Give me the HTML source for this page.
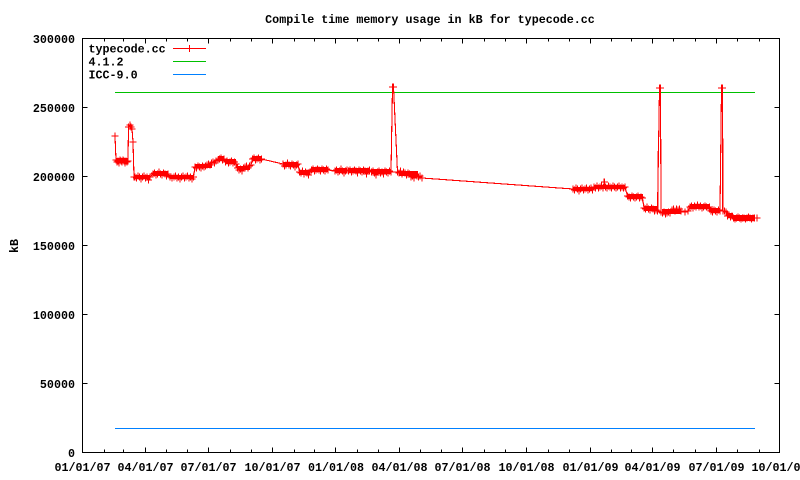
<!DOCTYPE html>
<html><head><meta charset="utf-8"><style>
html,body{margin:0;padding:0;background:#fff;}
svg{display:block;}
text{font-family:"Liberation Mono",monospace;font-weight:bold;font-size:11.7px;fill:#000;}
</style></head><body>
<svg width="800" height="480" viewBox="0 0 800 480" xmlns="http://www.w3.org/2000/svg">
<defs>
<marker id="p" markerWidth="10" markerHeight="10" refX="5" refY="5" markerUnits="userSpaceOnUse" overflow="visible"><path d="M1.5 5H8.5M5 1.5V8.5" stroke="#f00" stroke-width="1.2" fill="none" shape-rendering="crispEdges"/></marker>
</defs>
<rect width="800" height="480" fill="#fff"/>
<text x="430" y="23" text-anchor="middle">Compile time memory usage in kB for typecode.cc</text>
<text transform="translate(18,246) rotate(-90)" text-anchor="middle">kB</text>
<g text-anchor="end">
<text x="75" y="43">300000</text>
<text x="75" y="112">250000</text>
<text x="75" y="181">200000</text>
<text x="75" y="250">150000</text>
<text x="75" y="319">100000</text>
<text x="75" y="388">50000</text>
<text x="75" y="457">0</text>
</g>
<g text-anchor="middle">
<text x="82.5" y="471">01/01/07</text>
<text x="145.5" y="471">04/01/07</text>
<text x="208.5" y="471">07/01/07</text>
<text x="272.5" y="471">10/01/07</text>
<text x="336" y="471">01/01/08</text>
<text x="399.5" y="471">04/01/08</text>
<text x="462.5" y="471">07/01/08</text>
<text x="526.5" y="471">10/01/08</text>
<text x="590.5" y="471">01/01/09</text>
<text x="652.5" y="471">04/01/09</text>
<text x="716.5" y="471">07/01/09</text>
<text x="779.5" y="471">10/01/09</text>
</g>
<g stroke="#000" stroke-width="1" fill="none" shape-rendering="crispEdges">
<rect x="82.5" y="38.5" width="697" height="414"/>
<path d="M82.5 383.5h5M82.5 314.5h5M82.5 245.5h5M82.5 176.5h5M82.5 107.5h5
M779.5 383.5h-5M779.5 314.5h-5M779.5 245.5h-5M779.5 176.5h-5M779.5 107.5h-5"/>
<path d="M145.5 452.5v-5M208.5 452.5v-5M272.5 452.5v-5M335.5 452.5v-5M399.5 452.5v-5M462.5 452.5v-5M526.5 452.5v-5M590.5 452.5v-5M652.5 452.5v-5M716.5 452.5v-5
M145.5 38.5v5M208.5 38.5v5M272.5 38.5v5M335.5 38.5v5M399.5 38.5v5M462.5 38.5v5M526.5 38.5v5M590.5 38.5v5M652.5 38.5v5M716.5 38.5v5"/>
<path d="M104.5 452.5v-3M123.5 452.5v-3M166.5 452.5v-3M187.5 452.5v-3M230.5 452.5v-3M251.5 452.5v-3M294.5 452.5v-3M314.5 452.5v-3M357.5 452.5v-3M378.5 452.5v-3M420.5 452.5v-3M441.5 452.5v-3M484.5 452.5v-3M505.5 452.5v-3M548.5 452.5v-3M569.5 452.5v-3M611.5 452.5v-3M631.5 452.5v-3M673.5 452.5v-3M695.5 452.5v-3M737.5 452.5v-3M759.5 452.5v-3
M104.5 38.5v3M123.5 38.5v3M166.5 38.5v3M187.5 38.5v3M230.5 38.5v3M251.5 38.5v3M294.5 38.5v3M314.5 38.5v3M357.5 38.5v3M378.5 38.5v3M420.5 38.5v3M441.5 38.5v3M484.5 38.5v3M505.5 38.5v3M548.5 38.5v3M569.5 38.5v3M611.5 38.5v3M631.5 38.5v3M673.5 38.5v3M695.5 38.5v3M737.5 38.5v3M759.5 38.5v3"/>
</g>
<text x="88.5" y="52.5">typecode.cc</text>
<text x="88.5" y="65.5">4.1.2</text>
<text x="88.5" y="78.5">ICC-9.0</text>
<g shape-rendering="crispEdges">
<path d="M173 48.5H206" stroke="#f00" stroke-width="1"/>
<path d="M189.5 45V52" stroke="#f00" stroke-width="1"/>
<path d="M173 61.5H206" stroke="#00c000" stroke-width="1"/>
<path d="M173 74.5H206" stroke="#0080ff" stroke-width="1"/>
<path d="M115 92.5H755" stroke="#00c000" stroke-width="1"/>
<path d="M115 428.5H755" stroke="#0080ff" stroke-width="1"/>
</g>
<!-- solid cores of dense point clusters -->
<g fill="#f00" shape-rendering="crispEdges">
<rect x="116" y="158" width="12" height="5"/>
<rect x="135" y="175" width="15" height="4"/>
<rect x="153" y="171" width="15" height="5"/>
<rect x="170" y="175" width="24" height="4"/>
<rect x="195" y="164" width="17" height="4"/>
<rect x="218" y="156" width="6" height="5"/>
<rect x="225" y="159" width="11" height="5"/>
<rect x="238" y="166" width="12" height="4"/>
<rect x="252" y="156" width="10" height="5"/>
<rect x="283" y="162" width="15" height="5"/>
<rect x="300" y="170" width="10" height="5"/>
<rect x="311" y="167" width="17" height="5"/>
<rect x="335" y="168" width="12" height="5"/>
<rect x="348" y="168" width="22" height="5"/>
<rect x="371" y="169" width="20" height="5"/>
<rect x="399" y="171" width="19" height="5"/>
<rect x="573" y="187" width="20" height="4"/>
<rect x="594" y="185" width="31" height="4"/>
<rect x="628" y="194" width="15" height="5"/>
<rect x="644" y="206" width="13" height="5"/>
<rect x="662" y="209" width="19" height="5"/>
<rect x="690" y="204" width="20" height="5"/>
<rect x="711" y="208" width="9" height="5"/>
<rect x="727" y="213" width="6" height="5"/>
<rect x="733" y="215" width="22" height="6"/>
</g>
<path d="M658 211V151M722.5 211V151" stroke="#f00" stroke-width="1" fill="none" shape-rendering="crispEdges"/>
<polyline fill="none" stroke="#f00" stroke-width="1.1" shape-rendering="crispEdges" marker-start="url(#p)" marker-mid="url(#p)" marker-end="url(#p)" points="
115,136 116,160 117,162 118,161 119,163 120,160 121,161 122,162 123,160 124,161 125,163 126,161 127,162 128,161
128.5,127 130,125 131,127 132,129 133,142 134,177
135,177 136.5,178 138,176 139.5,177 141,179 142.5,177 144,176 145.5,178 147,177 148.5,180 150,177
153,174 154.5,173 156,175 157.5,174 159,172 160.5,174 162,175 163.5,173 165,174 166.5,176 168,174
170,177 172,178 174,177 175.5,176 177,178 178.5,177 180,179 181.5,177 183,176 184.5,178 186,177 187.5,176 189,178 190.5,177 192,179 193.5,177
195,167 196.5,168 198,166 199.5,167 201,168 202.5,166 204,167 205.5,166 207,165 208.5,164 210,165 211.5,163 213,162 214.5,163 216,161 218,160 219.5,159 221,158 222.5,160 224,159 225.5,162 227,161 228.5,163 230,162 231.5,161 233,163 234.5,162 236,164 237.5,168 239,170 240.5,169 242,171 243.5,168 245,167 246.5,166 248,168 249.5,166 251,165 252.5,159 254,158 255.5,160 257,159 258.5,158 260,160 261.5,159
283,164 284.5,166 286,165 287.5,163 289,165 290.5,166 292,164 293.5,165 295,167 296.5,165 298,164
299.5,172 301,173 302.5,171 304,174 305.5,172 307,173 308.5,175 310,172
311.5,170 313,169 314.5,171 316,170 317.5,169 319,170 320.5,171 322,169 323.5,170 325,171 326.5,169 328,170
335,171 336.5,170 338,172 339.5,171 341,169 342.5,171 344,173 345.5,171 347,170
348.5,171 350,170 351.5,172 353,171 354.5,170 356,171 357.5,173 359,170 360.5,171 362,172 363.5,170 365,171 366.5,174 368,171 369.5,170
371.5,172 373,171 374.5,173 376,175 377.5,172 379,171 380.5,173 382,172 383.5,174 385,171 386.5,172 388,173 389.5,171 391,172
392.5,87 393.5,87 397.5,172
399,173 400.5,171 402,174 403.5,172 405,173 406.5,175 408,173 409.5,174 411,177 412.5,176 414,178 415.5,175 417,176 418.5,177 420,176 422,178
573,189 574.5,190 576,188 577.5,189 579,191 580.5,189 582,188 583.5,190 585,189 586.5,188 588,190 589.5,189 591,188 592.5,190
594,187 595.5,188 597,186 598.5,188 600,187 601.5,186 603,188 604.3,182 605.5,187 607,188 608.5,186 610,187 611.5,188 613,186 614.5,187 616,188 617.5,187 619,186 620.5,188 622,187 623.5,188 625,187
627.5,196 629,197 630.5,198 632,196 633.5,197 635,198 636.5,197 638,196 639.5,198 641,197 642.5,198
644,208 645.5,209 647,207 648.5,209 650,210 651.5,208 653,209 654.5,211 656,210 657.5,211
659.5,88 660.5,88 661,212
662.5,213 664,212 665.5,214 667,213 668.5,212 670,213 672,210 673.5,209 675,211 676.5,209 678,210 679.5,209 681,211
685,212 688,211
690,207 691.5,206 693,208 694.5,206 696,207 697.5,205 699,207 700.5,206 702,208 703.5,207 705,206 706.5,207 708,208 709.5,207
711,211 712.5,212 714,210 715.5,211 717,212 718.5,210 720,211
721.5,88 722.5,88 723,211
724.5,211 726,212 727.5,216 729,215 730.5,217 732,216
733.5,218 735,219 736.5,218 738,217 739.5,218 741,219 742.5,218 744,218 745.5,219 747,218 748.5,217 750,218 751.5,219 753,218 754.5,218 757,218"/>
</svg>
</body></html>
